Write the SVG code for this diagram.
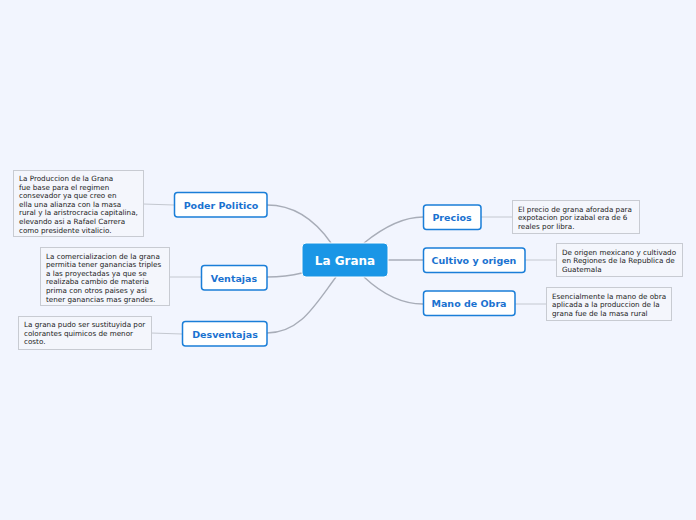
<svg xmlns="http://www.w3.org/2000/svg" width="696" height="520" viewBox="0 0 696 520">
<style>
.bg{fill:#f2f5fe}
.c{fill:none;stroke:#a8adb8;stroke-width:1.4}
.n{fill:none;stroke:#c4c8d0;stroke-width:1}
.topic{fill:#fff;stroke:#1a7ed8;stroke-width:1.5}
.tt{font-family:"DejaVu Sans",Verdana,sans-serif;font-size:9.5px;font-weight:bold;fill:#1a72d0;text-anchor:middle}
.note{fill:#f4f6fc;stroke:#c8cbd2;stroke-width:1}
.nt{font-family:"DejaVu Sans",Verdana,sans-serif;font-size:7.2px;fill:#222}
</style>
<rect class="bg" x="0" y="0" width="696" height="520"/>
<g id="connectors">
<path class="c" d="M331,243 C315,220 295,205 267,205"/>
<path class="c" d="M302,273 C290,276 280,277 267,277"/>
<path class="c" d="M336,277 C315,305 300,333 267,333"/>
<path class="c" d="M364,243 C380,230 400,217 423,217"/>
<path class="c" d="M388,260 L423,260"/>
<path class="c" d="M364,277 C380,292 400,304 423,304"/>
<path class="n" d="M143,204 L174,205"/>
<path class="n" d="M169,277 L201,277"/>
<path class="n" d="M151,333 L182,334"/>
<path class="n" d="M481,217 L512,217"/>
<path class="n" d="M525,260 L556,260"/>
<path class="n" d="M515,304 L546,304"/>
</g>
<g id="center">
<rect x="302" y="243" width="86" height="34" rx="4" fill="#1a96e6" stroke="#ffffff" stroke-width="1"/>
<text x="345" y="265" text-anchor="middle" font-family="DejaVu Sans,Verdana,sans-serif" font-size="12px" font-weight="bold" fill="#fff">La Grana</text>
</g>
<g id="poder">
<rect class="topic" x="174.5" y="192.5" width="92.5" height="24.5" rx="3"/>
<text class="tt" x="221" y="208.5">Poder Politico</text>
</g>
<g id="ventajas">
<rect class="topic" x="201.5" y="265.5" width="65.5" height="24.5" rx="3"/>
<text class="tt" x="234" y="281.5">Ventajas</text>
</g>
<g id="desventajas">
<rect class="topic" x="182.5" y="321.5" width="84.5" height="24.5" rx="3"/>
<text class="tt" x="225" y="337.5">Desventajas</text>
</g>
<g id="precios">
<rect class="topic" x="423.5" y="205" width="57.5" height="24.5" rx="3"/>
<text class="tt" x="452" y="221">Precios</text>
</g>
<g id="cultivo">
<rect class="topic" x="423.5" y="248" width="101.5" height="24.5" rx="3"/>
<text class="tt" x="474" y="264">Cultivo y origen</text>
</g>
<g id="mano">
<rect class="topic" x="423.5" y="291" width="91.5" height="24.5" rx="3"/>
<text class="tt" x="469" y="307">Mano de Obra</text>
</g>
<g id="note-poder">
<rect class="note" x="13.5" y="170.5" width="130" height="66"/>
<text class="nt" x="19" y="181">
<tspan x="19" dy="0">La Produccion de la Grana</tspan>
<tspan x="19" dy="8.6">fue base para el regimen</tspan>
<tspan x="19" dy="8.6">consevador ya que creo en</tspan>
<tspan x="19" dy="8.6">ella una alianza con la masa</tspan>
<tspan x="19" dy="8.6">rural y la aristrocracia capitalina,</tspan>
<tspan x="19" dy="8.6">elevando asi a Rafael Carrera</tspan>
<tspan x="19" dy="8.6">como presidente vitalicio.</tspan>
</text>
</g>
<g id="note-ventajas">
<rect class="note" x="40.5" y="247.5" width="129" height="58"/>
<text class="nt" x="46" y="258.5">
<tspan x="46" dy="0">La comercializacion de la grana</tspan>
<tspan x="46" dy="8.6">permitia tener ganancias triples</tspan>
<tspan x="46" dy="8.6">a las proyectadas ya que se</tspan>
<tspan x="46" dy="8.6">realizaba cambio de materia</tspan>
<tspan x="46" dy="8.6">prima con otros paises y asi</tspan>
<tspan x="46" dy="8.6">tener ganancias mas grandes.</tspan>
</text>
</g>
<g id="note-desventajas">
<rect class="note" x="18.5" y="316.5" width="133" height="33"/>
<text class="nt" x="24" y="327">
<tspan x="24" dy="0">La grana pudo ser sustituyida por</tspan>
<tspan x="24" dy="8.6">colorantes quimicos de menor</tspan>
<tspan x="24" dy="8.6">costo.</tspan>
</text>
</g>
<g id="note-precios">
<rect class="note" x="512.5" y="200.5" width="127" height="33"/>
<text class="nt" x="518" y="211.5">
<tspan x="518" dy="0">El precio de grana aforada para</tspan>
<tspan x="518" dy="8.6">expotacion por izabal era de 6</tspan>
<tspan x="518" dy="8.6">reales por libra.</tspan>
</text>
</g>
<g id="note-cultivo">
<rect class="note" x="556.5" y="243.5" width="126" height="33"/>
<text class="nt" x="562" y="254.5">
<tspan x="562" dy="0">De origen mexicano y cultivado</tspan>
<tspan x="562" dy="8.6">en Regiones de la Republica de</tspan>
<tspan x="562" dy="8.6">Guatemala</tspan>
</text>
</g>
<g id="note-mano">
<rect class="note" x="546.5" y="287.5" width="125" height="33"/>
<text class="nt" x="552" y="298.5">
<tspan x="552" dy="0">Esencialmente la mano de obra</tspan>
<tspan x="552" dy="8.6">aplicada a la produccion de la</tspan>
<tspan x="552" dy="8.6">grana fue de la masa rural</tspan>
</text>
</g>
</svg>
